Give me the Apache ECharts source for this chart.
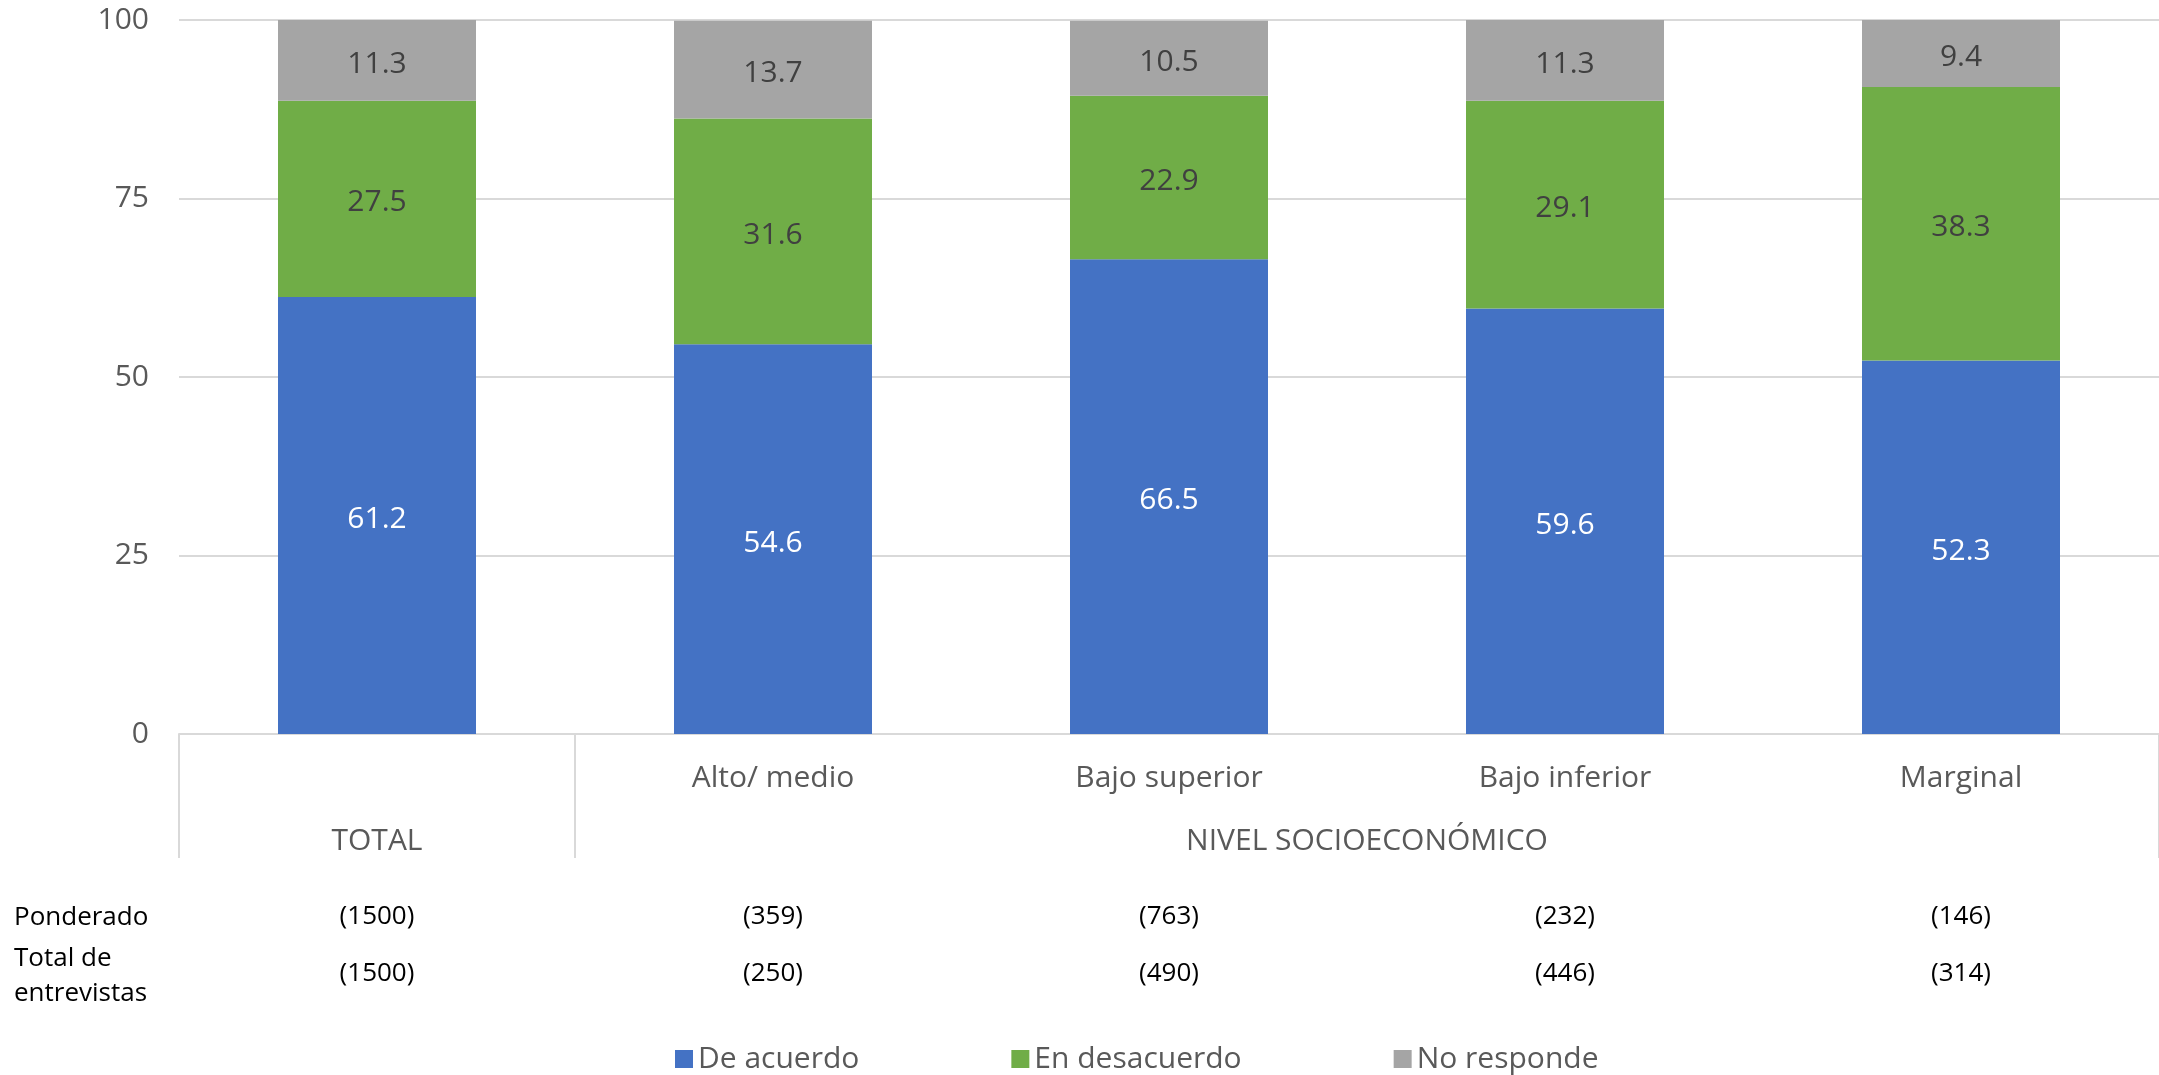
<!DOCTYPE html>
<html><head><meta charset="utf-8">
<script src="https://cdn.jsdelivr.net/npm/echarts@6/dist/echarts.min.js"></script>
<style>html,body{margin:0;padding:0;background:#fff}#c{width:2159px;height:1075px}</style>
</head><body><div id="c"></div>
<script>
const categories = ['', 'Alto/ medio', 'Bajo superior', 'Bajo inferior', 'Marginal'];
const groupLabels = [{text: 'TOTAL', from: 0, to: 0}, {text: 'NIVEL SOCIOECONÓMICO', from: 1, to: 4}];
const deAcuerdo = [61.2, 54.6, 66.5, 59.6, 52.3];
const enDesacuerdo = [27.5, 31.6, 22.9, 29.1, 38.3];
const noResponde = [11.3, 13.7, 10.5, 11.3, 9.4];
const ponderado = ['(1500)', '(359)', '(763)', '(232)', '(146)'];
const entrevistas = ['(1500)', '(250)', '(490)', '(446)', '(314)'];
const rowHeaders = ['Ponderado', 'Total de\nentrevistas'];
const seriesNames = ['De acuerdo', 'En desacuerdo', 'No responde'];
const yTicks = [0, 25, 50, 75, 100];

const FONT = '"Open Sans", "Noto Sans", sans-serif';
const FS = 30;
const TFS = 26;
const chart = echarts.init(document.getElementById('c'), null, {renderer: 'canvas'});

function tableAxis(data, margin) {
  return {
    type: 'category', data: data, position: 'bottom', gridIndex: 0,
    axisLine: {show: false}, axisTick: {show: false}, splitLine: {show: false},
    axisLabel: {margin: margin, color: '#000', fontSize: TFS, fontFamily: FONT, interval: 0}
  };
}

const option = {
  animation: false,
  backgroundColor: '#fff',
  textStyle: {fontFamily: FONT},
  grid: {left: 179, right: 0, top: 20, bottom: 341, containLabel: false},
  color: ['#4472C4', '#70AD47', '#A5A5A5'],
  legend: {
    data: seriesNames, bottom: -4, left: 670, itemWidth: 18, itemHeight: 18, itemGap: 152,
    icon: 'rect', textStyle: {color: '#595959', fontSize: FS, fontFamily: FONT}
  },
  xAxis: [
    {
      type: 'category', data: categories,
      axisLine: {lineStyle: {color: '#D9D9D9', width: 2}},
      axisTick: {show: true, length: 124, lineStyle: {color: '#D9D9D9', width: 2},
        interval: function (i) { return i === 0 || i === 1; }},
      axisLabel: {margin: 29, color: '#595959', fontSize: FS, fontFamily: FONT, interval: 0}
    },
    tableAxis(ponderado, 170),
    tableAxis(entrevistas, 227)
  ],
  yAxis: {
    type: 'value', min: yTicks[0], max: yTicks[yTicks.length - 1], interval: 25,
    axisLine: {show: false}, axisTick: {show: false},
    axisLabel: {margin: 30, color: '#595959', fontSize: FS, fontFamily: FONT},
    splitLine: {lineStyle: {color: '#D9D9D9', width: 2}}
  },
  series: [
    {name: seriesNames[0], data: deAcuerdo, color: '#FFFFFF'},
    {name: seriesNames[1], data: enDesacuerdo, color: '#404040'},
    {name: seriesNames[2], data: noResponde, color: '#404040'}
  ].map(function (s, i) {
    return {
      name: s.name, type: 'bar', stack: 'total', data: s.data, barWidth: '50%',
      itemStyle: {color: ['#4472C4', '#70AD47', '#A5A5A5'][i]},
      label: {show: true, position: 'inside', offset: [0, 4], color: s.color, fontSize: FS, fontFamily: FONT,
        formatter: function (p) { return p.value.toFixed(1); }}
    };
  })
};
chart.setOption(option);

const axisY = chart.convertToPixel({yAxisIndex: 0}, 0);
const graphics = [];
groupLabels.forEach(function (g) {
  const x1 = chart.convertToPixel({xAxisIndex: 0}, g.from);
  const x2 = chart.convertToPixel({xAxisIndex: 0}, g.to);
  graphics.push({type: 'text', x: (x1 + x2) / 2, y: axisY + 107,
    style: {text: g.text, fill: '#595959', font: FS + 'px ' + FONT, textAlign: 'center', textVerticalAlign: 'middle'}});
});
graphics.push({type: 'text', x: 14, y: axisY + 184,
  style: {text: rowHeaders[0], fill: '#000', font: TFS + 'px ' + FONT, textAlign: 'left', textVerticalAlign: 'middle'}});
graphics.push({type: 'text', x: 14, y: axisY + 242,
  style: {text: rowHeaders[1], fill: '#000', font: TFS + 'px ' + FONT, textAlign: 'left', textVerticalAlign: 'middle', lineHeight: 35}});
chart.setOption({graphic: graphics});
</script></body></html>
